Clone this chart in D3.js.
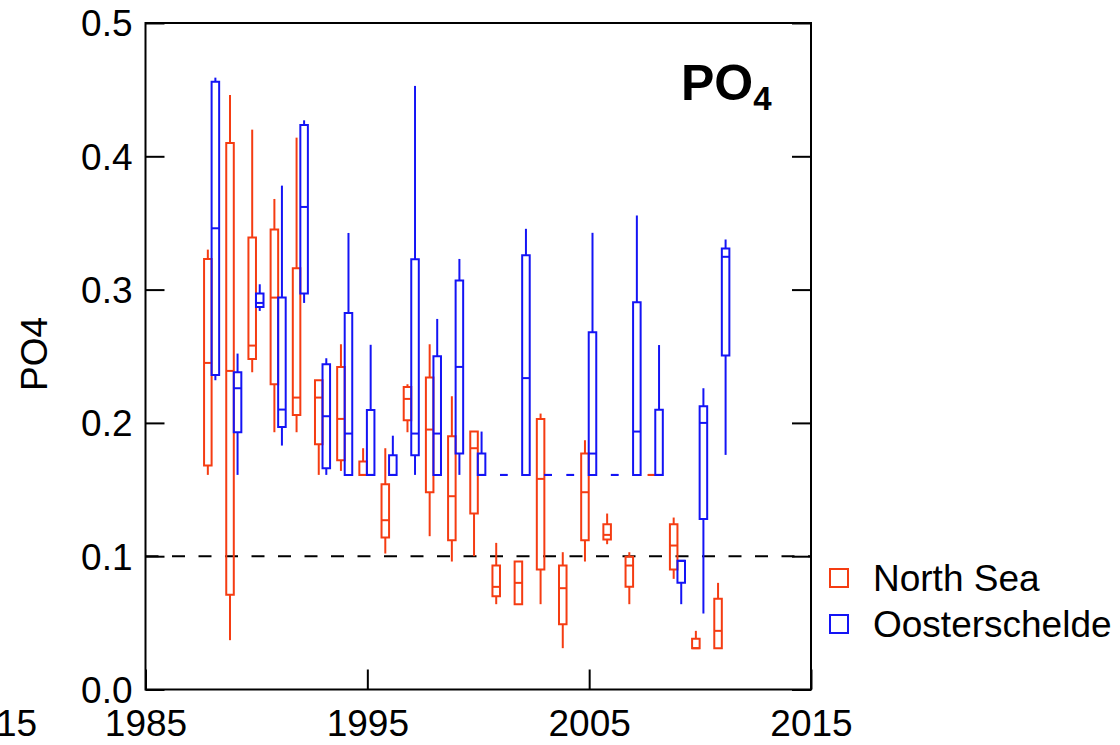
<!DOCTYPE html>
<html>
<head>
<meta charset="utf-8">
<script src="https://cdn.jsdelivr.net/npm/d3@7"></script>
<style>
  html, body { margin: 0; padding: 0; background: #fff; }
  svg { display: block; font-family: "Liberation Sans", Arial, sans-serif; }
</style>
</head>
<body>
<svg id="chart" width="1120" height="745"></svg>
<script>
// Years sampled (one box per year for each water body)
const years = [1988, 1989, 1990, 1991, 1992, 1993, 1994, 1995, 1996, 1997, 1998, 1999,
               2000, 2001, 2002, 2003, 2004, 2005, 2006, 2007, 2008, 2009, 2010, 2011];

// North Sea PO4: whisker low, lower quartile, median, upper quartile, whisker high
const nsLow  = [0.161, 0.037, 0.238, 0.193, 0.193, 0.161, 0.164, 0.161, 0.102, 0.193, 0.115, 0.096,
                0.100, 0.064, 0.064, 0.064, 0.031, 0.096, 0.109, 0.064, 0.161, 0.083, 0.031, 0.031];
const nsQ1   = [0.168, 0.071, 0.248, 0.229, 0.206, 0.184, 0.172, 0.161, 0.114, 0.202, 0.148, 0.112,
                0.132, 0.070, 0.064, 0.090, 0.049, 0.112, 0.1125, 0.077, 0.161, 0.090, 0.031, 0.031];
const nsMed  = [0.245, 0.239, 0.258, 0.294, 0.219, 0.219, 0.203, 0.161, 0.127, 0.218, 0.195, 0.145,
                0.181, 0.077, 0.080, 0.158, 0.076, 0.148, 0.116, 0.093, 0.161, 0.108, 0.031, 0.044];
const nsQ3   = [0.323, 0.410, 0.339, 0.345, 0.316, 0.232, 0.242, 0.171, 0.154, 0.227, 0.234, 0.190,
                0.1935, 0.093, 0.096, 0.203, 0.093, 0.177, 0.124, 0.0995, 0.161, 0.124, 0.038, 0.068];
const nsHigh = [0.330, 0.446, 0.420, 0.368, 0.414, 0.232, 0.259, 0.181, 0.181, 0.229, 0.259, 0.220,
                0.1935, 0.110, 0.096, 0.207, 0.103, 0.187, 0.132, 0.103, 0.161, 0.129, 0.044, 0.080];

// Oosterschelde PO4
const osLow  = [0.232, 0.161, 0.284, 0.183, 0.290, 0.161, 0.161, 0.161, 0.161, 0.161, 0.161, 0.161,
                0.161, 0.161, 0.161, 0.161, 0.161, 0.161, 0.161, 0.161, 0.161, 0.064, 0.057, 0.176];
const osQ1   = [0.236, 0.193, 0.287, 0.197, 0.297, 0.166, 0.161, 0.161, 0.161, 0.1757, 0.161, 0.177,
                0.161, 0.161, 0.161, 0.161, 0.161, 0.161, 0.161, 0.161, 0.161, 0.080, 0.128, 0.2506];
const osMed  = [0.346, 0.226, 0.290, 0.210, 0.362, 0.205, 0.192, 0.161, 0.161, 0.192, 0.192, 0.242,
                0.161, 0.161, 0.2336, 0.161, 0.161, 0.177, 0.161, 0.1935, 0.161, 0.0965, 0.200, 0.3246];
const osQ3   = [0.456, 0.238, 0.297, 0.294, 0.4235, 0.244, 0.2825, 0.2096, 0.1757, 0.3227, 0.250, 0.3068,
                0.177, 0.161, 0.3258, 0.161, 0.161, 0.268, 0.161, 0.2905, 0.2098, 0.0965, 0.2125, 0.3308];
const osHigh = [0.459, 0.252, 0.304, 0.378, 0.427, 0.2485, 0.3425, 0.2586, 0.1904, 0.4528, 0.278, 0.323,
                0.1935, 0.161, 0.3456, 0.161, 0.161, 0.3426, 0.161, 0.3556, 0.2584, 0.0965, 0.226, 0.3376];

const seriesNames = ["North Sea", "Oosterschelde"];
const seriesColors = ["#f53c12", "#1414f5"];
const yTicks = [0.0, 0.1, 0.2, 0.3, 0.4, 0.5];
const xTicks = [1985, 1995, 2005, 2015];
const referenceLevel = 0.1;

const svg = d3.select("#chart");
const plotLeft = 145.5, plotRight = 811, plotTop = 23, plotBottom = 689.5;

const x = d3.scaleLinear().domain([1985, 2015]).range([plotLeft, plotRight]);
const y = d3.scaleLinear().domain([0, 0.5]).range([plotBottom, plotTop]);

const boxW = 0.34;               // box width in years
const offsets = [-0.36, -0.02];  // left edge of each series' box relative to the year

function toRows(lo, q1, med, q3, hi) {
  return years.map((yr, i) => ({ year: yr, lo: lo[i], q1: q1[i], med: med[i], q3: q3[i], hi: hi[i] }));
}
const series = [
  toRows(nsLow, nsQ1, nsMed, nsQ3, nsHigh),
  toRows(osLow, osQ1, osMed, osQ3, osHigh)
];

// Reference level
svg.append("line")
  .attr("x1", x(1985)).attr("x2", x(2015))
  .attr("y1", y(referenceLevel)).attr("y2", y(referenceLevel))
  .attr("stroke", "#000").attr("stroke-width", 2)
  .attr("stroke-dasharray", "13,13.5");

// Box plots
series.forEach((rows, s) => {
  const g = svg.append("g")
    .attr("fill", "none")
    .attr("stroke", seriesColors[s])
    .attr("stroke-width", 2);
  rows.forEach(d => {
    const x0 = x(d.year + offsets[s]);
    const x1 = x(d.year + offsets[s] + boxW);
    const xc = (x0 + x1) / 2;
    if (d.hi > d.q3) g.append("line").attr("x1", xc).attr("x2", xc).attr("y1", y(d.q3)).attr("y2", y(d.hi));
    if (d.lo < d.q1) g.append("line").attr("x1", xc).attr("x2", xc).attr("y1", y(d.q1)).attr("y2", y(d.lo));
    g.append("path")
      .attr("d", `M${x0},${y(d.q3)}H${x1}V${y(d.q1)}H${x0}Z`);
    g.append("line").attr("x1", x0).attr("x2", x1).attr("y1", y(d.med)).attr("y2", y(d.med));
  });
});

// Frame and axes
svg.append("rect")
  .attr("x", plotLeft).attr("y", plotTop)
  .attr("width", plotRight - plotLeft).attr("height", plotBottom - plotTop)
  .attr("fill", "none").attr("stroke", "#000").attr("stroke-width", 2);

function styleAxis(g) {
  g.select(".domain").remove();
  g.selectAll(".tick line").attr("stroke", "#000").attr("stroke-width", 2);
  g.selectAll(".tick text").attr("fill", "#000").style("font-size", "37px")
    .style("font-family", "'Liberation Sans', Arial, sans-serif");
}

svg.append("g").attr("transform", `translate(${plotLeft},0)`)
  .call(d3.axisLeft(y).tickValues(yTicks).tickFormat(d3.format(".1f")).tickSize(-19).tickPadding(13))
  .call(styleAxis)
  .selectAll(".tick text").attr("dy", "0.35em");

svg.append("g").attr("transform", `translate(${plotRight},0)`)
  .call(d3.axisRight(y).tickValues(yTicks).tickFormat("").tickSize(-19))
  .call(styleAxis);

svg.append("g").attr("transform", `translate(0,${plotBottom})`)
  .call(d3.axisBottom(x).tickValues(xTicks).tickFormat(d3.format("d")).tickSize(-20).tickPadding(20))
  .call(styleAxis);

// Trailing year label of the adjoining panel on the left
svg.append("text")
  .attr("x", -4).attr("y", 736)
  .attr("text-anchor", "middle")
  .style("font-size", "37px")
  .text("2015");

// Axis title
svg.append("text")
  .attr("transform", "translate(47,354) rotate(-90)")
  .attr("text-anchor", "middle")
  .style("font-size", "37px")
  .text("PO4");

// Panel title with subscript
const title = svg.append("text")
  .attr("x", 681).attr("y", 100)
  .style("font-weight", "bold")
  .style("font-size", "50px");
title.append("tspan").text("PO");
title.append("tspan").attr("dy", 10).style("font-size", "33px").text("4");

// Legend
const legend = svg.append("g");
seriesNames.forEach((name, i) => {
  const ly = 569 + i * 46;
  legend.append("rect")
    .attr("x", 830).attr("y", ly).attr("width", 18).attr("height", 18)
    .attr("fill", "none").attr("stroke", seriesColors[i]).attr("stroke-width", 2);
  legend.append("text")
    .attr("x", 873).attr("y", ly + 22)
    .style("font-size", "37px")
    .text(name);
});
</script>
</body>
</html>
